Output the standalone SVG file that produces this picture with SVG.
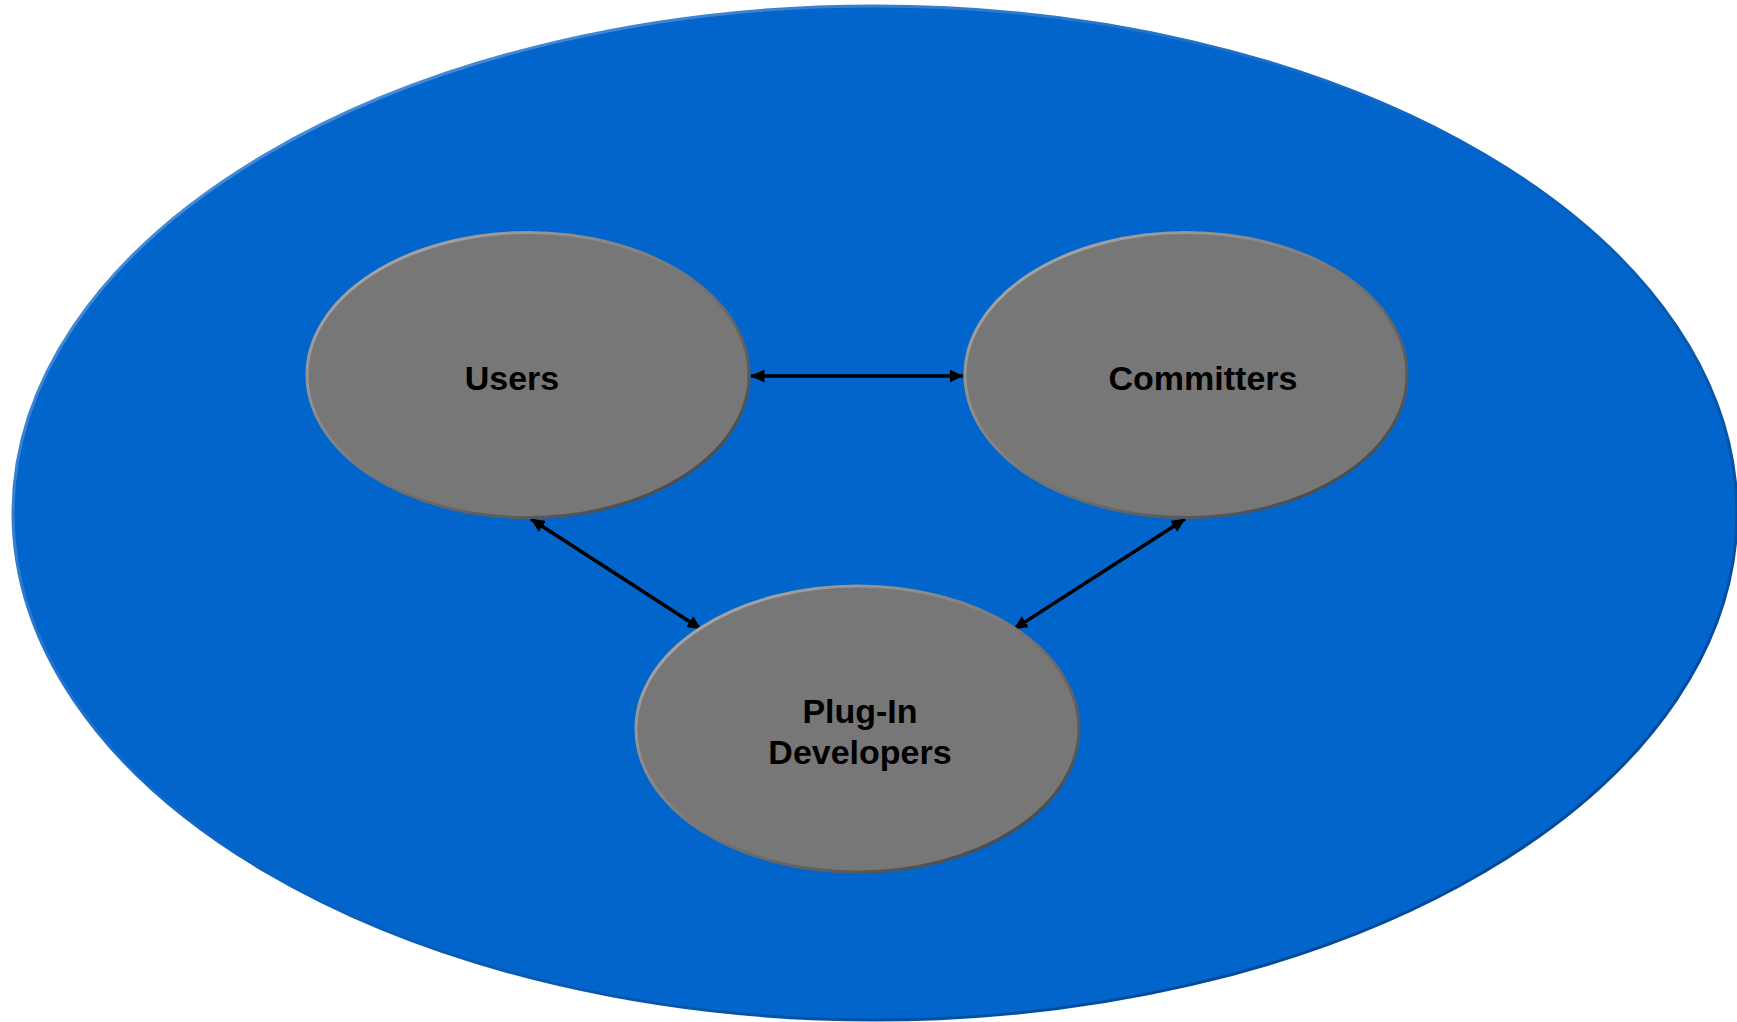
<svg xmlns="http://www.w3.org/2000/svg" width="1737" height="1022" viewBox="0 0 1737 1022">
<defs>
<linearGradient id="outerStroke" x1="0" y1="0" x2="1" y2="1">
<stop offset="0" stop-color="#5f9be0"/>
<stop offset="0.5" stop-color="#0a62c0"/>
<stop offset="1" stop-color="#003f85"/>
</linearGradient>
<linearGradient id="nodeStroke" x1="0" y1="0" x2="1" y2="1">
<stop offset="0" stop-color="#b4b4b4"/>
<stop offset="0.5" stop-color="#777777"/>
<stop offset="1" stop-color="#3c3c3c"/>
</linearGradient>
<marker id="arrow" viewBox="0 0 14 13" refX="13.5" refY="6.5" markerWidth="14" markerHeight="13" markerUnits="userSpaceOnUse" orient="auto-start-reverse">
<path d="M0,0 L14,6.5 L0,13 Z" fill="#000"/>
</marker>
<style>
.node{fill:#777777;stroke:url(#nodeStroke);stroke-width:3}
.label{font-family:"Liberation Sans",Arial,sans-serif;font-weight:bold;font-size:34px;fill:#000;text-anchor:middle}
.conn{stroke:#000;stroke-width:3.5;fill:none;marker-start:url(#arrow);marker-end:url(#arrow)}
</style>
</defs>
<rect width="1737" height="1022" fill="#ffffff"/>
<g id="community">
<ellipse cx="875" cy="513" rx="862" ry="507" fill="#0265CB" stroke="url(#outerStroke)" stroke-width="3"/>
</g>
<g id="connectors">
<line class="conn" x1="751" y1="376" x2="963" y2="376"/>
<line class="conn" x1="531" y1="519" x2="701" y2="629"/>
<line class="conn" x1="1185" y1="519" x2="1014" y2="629"/>
</g>
<g id="users">
<ellipse class="node" cx="528" cy="375" rx="221" ry="142.5"/>
<text class="label" x="512" y="390">Users</text>
</g>
<g id="committers">
<ellipse class="node" cx="1186" cy="375" rx="221" ry="142.5"/>
<text class="label" x="1203" y="390">Committers</text>
</g>
<g id="plugin-developers">
<ellipse class="node" cx="857.5" cy="729" rx="221.5" ry="143"/>
<text class="label" x="860" y="723">Plug-In</text>
<text class="label" x="860" y="764">Developers</text>
</g>
</svg>
